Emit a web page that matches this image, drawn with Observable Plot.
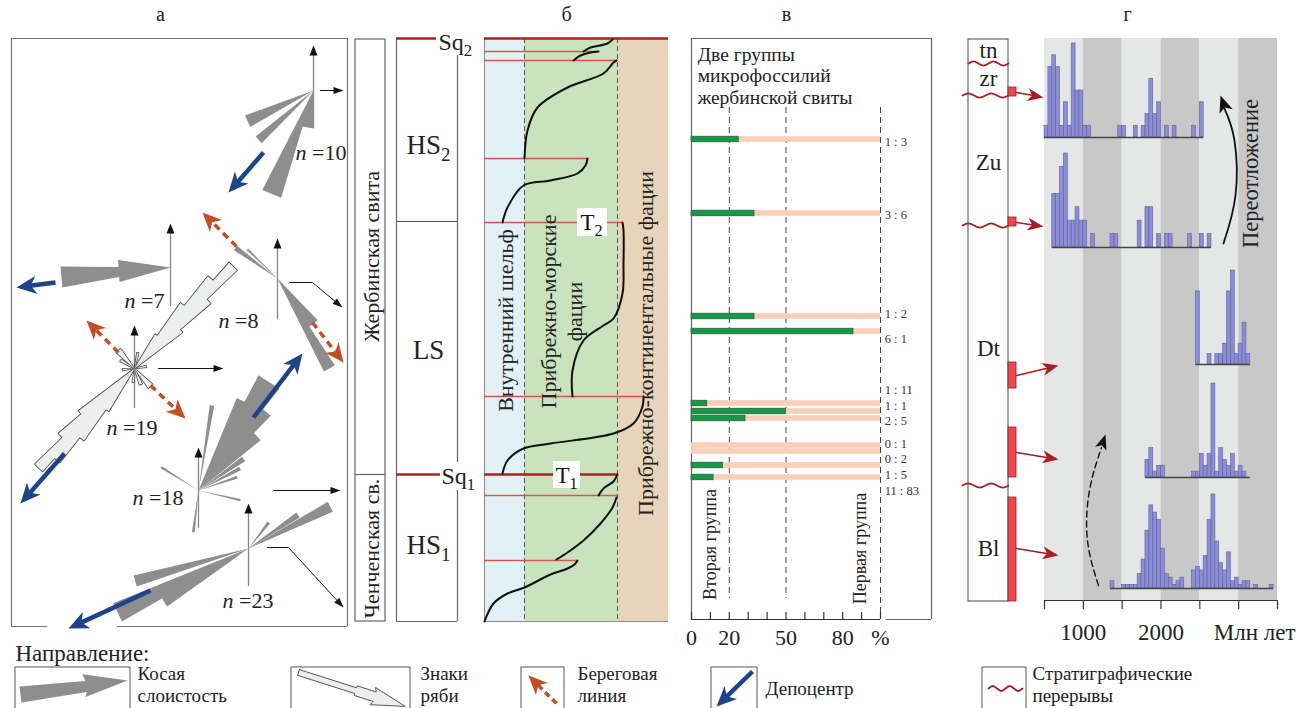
<!DOCTYPE html>
<html lang="ru">
<head>
<meta charset="utf-8">
<script src="https://cdn.jsdelivr.net/npm/d3@7"></script>
<script src="https://cdn.jsdelivr.net/npm/@observablehq/plot@0.6"></script>
<style>
  html,body{margin:0;padding:0;background:#fff;}
  #fig{position:relative;width:1301px;height:708px;overflow:hidden;background:#fff;}
  #fig svg{position:absolute;left:0;top:0;}
  #fig svg, #fig svg text, #fig svg tspan{font-family:"Liberation Serif","Tinos","Noto Serif","DejaVu Serif",serif !important;}
</style>
</head>
<body>
<div id="fig"></div>
<script>
const FONT = '"Liberation Serif","Tinos","Noto Serif","DejaVu Serif",serif';

/* ====================== DATA ====================== */
// --- а: rose diagrams (n = number of measurements)
const roseNames  = ["n10","n7","n8","n19","n18","n23"];
const roseCounts = [10, 7, 8, 19, 18, 23];
const roseKind   = ["cross","cross","cross","ripple","cross","cross"];
// petals: [azimuth°, half-width°, length]
const petalsN10 = [[245,5,73],[228,3.5,74],[202,5.2,112],[190,10,38]];
const petalsN7  = [[265,5.5,110],[266,12,53]];
const petalsN8  = [[150,3.5,104],[143,7,58],[306,3,52],[314,1.5,42]];
const petalsN19 = [[44,2.2,142],[41,2.5,118],[47,2.5,100],[38,3,80],[50,3,60],[35,4,40],
                   [224,2.2,138],[221,2.5,120],[227,2.5,100],[218,3,88],[230,3,70],[215,4,50],
                   [318,7,24],[300,4,16],[138,7,24],[158,5,17],[185,4,14],[12,3,16],[80,4,12],[265,4,12]];
const petalsN18 = [[33,5.5,130],[40,4,104],[26,3.5,100],[47,4,80],[55,3,55],[62,2.5,47],[71,2,41],
                   [9,1.5,86],[302,1.5,44],[187,2,42],[103,1.5,43]];
const petalsN23 = [[254,2.8,118],[244,4,146],[238,3.5,100],[63,3.5,92],[56,3,60],[38,3,33]];

// --- б: sequence stratigraphy
const formations = ["Жербинская свита","Ченченская св."];
const sequences  = ["HS_2","LS","HS_1"];
const faciesNames = ["Внутренний шельф","Прибрежно-морские","фации","Прибрежно-континентальные фации"];
const faciesBounds = [0, 40, 133, 184];            // shelf | coastal-marine | coastal-continental
const faciesColors = ["#e1f1f6","#c9e3bf","#e8d4ba"];
const floodDepth  = [13, 22, 120, 184, 358, 457, 522];   // thin red surfaces
const floodExtent = [114, 133, 103, 138, 159, 133, 93];
const seqBoundDepth = [0, 436];                           // Sq2, Sq1
const seqBoundExtent = [184, 133];
// facies curve (x = facies position, d = stratigraphic depth), one array per segment
const curveHS1a = [[0,583],[9,565],[23,555],[40,549],[66,536],[83,530],[90,526],[93,522]];
const curveHS1b = [[72,521],[83,514],[99,502],[116,485],[128,469],[132,459]];
const curveHS1c = [[114,457],[119,450],[129,443],[132,438],[133,436]];
const curveLSa  = [[18,435],[23,422],[39,410],[66,405],[129,395],[149,385],[158,368],[159,358]];
const curveLSb  = [[88,358],[88,332],[99,302],[119,287],[129,280],[138,255],[139,225],[139,192],[138,184]];
const curveHS2a = [[18,184],[23,169],[39,147],[66,142],[93,135],[101,127],[103,120]];
const curveHS2b = [[40,120],[43,92],[53,69],[83,49],[119,35],[129,24],[132,22]];
const curveHS2c = [[89,22],[96,17],[106,14],[114,13]];
const curveHS2d = [[99,13],[106,9],[123,5],[128,1]];

// --- в: two groups of microfossils
const ratioLabels = ["1 : 3","3 : 6","1 : 2","6 : 1","1 : 11","1 : 1","2 : 5","0 : 1","0 : 2","1 : 5","11 : 83"];
const secondGroup = [1, 3, 1, 6, 1, 1, 2, 0, 0, 1, 11];
const firstGroup  = [3, 6, 2, 1, 11, 1, 5, 1, 2, 5, 83];
const sampleDepth = [101,175,278,293,365,373,380,407,413,427,439];
const labelDepth  = [103,176,275,300,351,367,382,405,420,436,452];
const pctTicks  = [0,10,20,30,40,50,60,70,80,90,100];
const pctLabels = ["0","20","50","80","%"];
const pctLabelAt = [0,20,50,80,100];

// --- г: detrital zircon ages (bin start, Ma; bin = 50 Ma) and counts
const BIN = 50;
const agesZr   = [500,550,600,650,700,750,800,850,900,950,1000,1050,1450,1500,1650,1750,1800,1850,1900,1950,2050,2150,2400,2500];
const countsZr = [1,6,7,6,1,3,1,8,4,4,1,1,1,1,1,1,2,5,2,3,1,1,1,3];
const agesZu   = [600,650,700,750,800,850,900,950,1000,1100,1350,1400,1700,1800,1850,1950,2050,2100,2350,2500,2600];
const countsZu = [4,4,6,7,2,2,3,2,2,1,1,1,2,3,3,1,1,1,1,1,1];
const agesDt1   = [2450,2600,2700,2750,2800,2850,2900,2950,3000,3050,3100];
const countsDt1 = [7,1,1,1,2,7,9,1,2,4,1];
const agesDt2   = [1800,1850,1900,1950,2000,2400,2450,2500,2550,2600,2650,2700,2750,2800,2850,2900,2950,3000,3050];
const countsDt2 = [3,5,1,2,2,1,1,4,2,4,16,1,5,3,2,4,1,2,1];
const agesBl   = [1350,1500,1550,1600,1650,1700,1750,1800,1850,1900,1950,2000,2050,2100,2150,2200,2250,2400,2450,2500,2550,2600,2650,2700,2750,2800,2850,2900,2950,3000,3050,3100,3200,3400];
const countsBl = [2,1,1,1,1,4,8,16,23,21,19,11,4,3,1,2,3,5,6,5,9,19,26,13,7,5,10,2,3,1,2,2,1,1];
const ageTicks = [500,1000,1500,2000,2500,3000,3500];
const ageLabels = ["1000","2000","Млн лет"];
const ageLabelAt = [1000,2000,3206];
const unitNames = ["tn","zr","Zu","Dt","Bl"];
const unitDepth = [12, 40, 124, 310, 510];
const hiatusDepth = [25, 57, 187, 447];
const sampleTop = [49,179,324,389,459];
const sampleBot = [58,188,350,439,563];

// legend
const legendTitle = "Направление:";
const legendItems = [["Косая","слоистость"],["Знаки","ряби"],["Береговая","линия"],["Депоцентр"],["Стратиграфические","перерывы"]];

/* ====================== LAYOUT ====================== */
const LAYOUT = {
  depthRange: [38, 621], depthDomain: [0, 583],
  roseCenter: [[313,90],[170,267],[277,278],[134,368],[198,490],[248,548]],
  northSpan:  [[45,127],[223,305],[238,318],[325,407],[447,527],[503,585]],
  labelPos:   [[295,152],[124,300],[218,320],[106,427],[132,497],[222,600]],
  eastArrows: [[320,90,343,90],[158,368,223,368],[273,490,340,490]],
  bentArrows: [[[289,282],[312,282],[342,307]],[[267,547],[288,547],[343,607]]],
  blueArrows: [[263,152,228,192],[55,282,16,287],[64,453,20,503],[253,417,302,353],[150,590,68,628]],
  coastArrows:[[236,246,202,212],[312,322,343,362],[118,352,86,320],[150,385,185,418]],
  redArrows:  [[1016,92,1043,97],[1016,222,1043,226],[1016,375,1058,365],[1016,452,1058,459],[1016,548,1058,555]],
  panelLetters: [["а",160],["б",566],["в",786],["г",1127]]
};

/* ====================== HELPERS ====================== */
const rad = a => a * Math.PI / 180;
function sectorRows(id, cx, cy, az, hw, len) {
  const a1 = rad(az - hw), a2 = rad(az + hw);
  return [[cx,cy],[cx+len*Math.sin(a1), cy-len*Math.cos(a1)],[cx+len*Math.sin(a2), cy-len*Math.cos(a2)],[cx,cy]]
    .map(([x,y]) => ({id, x, y}));
}
function arrowRows(id, x1, y1, x2, y2, hl, hw, notch) {
  const L = Math.hypot(x2-x1, y2-y1), ux = (x2-x1)/L, uy = (y2-y1)/L, px = -uy, py = ux;
  const bx = x2-ux*hl, by = y2-uy*hl, nx = x2-ux*hl*notch, ny = y2-uy*hl*notch;
  return {
    shaft: [{id,x:x1,y:y1},{id,x:nx+ux,y:ny+uy}],
    head: [{id,x:x2,y:y2},{id,x:bx+px*hw/2,y:by+py*hw/2},{id,x:nx,y:ny},{id,x:bx-px*hw/2,y:by-py*hw/2},{id,x:x2,y:y2}]
  };
}
function templateRows(id, x1, y1, x2, y2, tpl) {
  const L = Math.hypot(x2-x1, y2-y1), ux = (x2-x1)/L, uy = (y2-y1)/L, px = -uy, py = ux;
  return tpl.map(([t,w]) => ({id, x:x1+ux*t+px*w, y:y1+uy*t+py*w}));
}
function waveRows(id, x1, x2, y, amp, n) {
  const k = [0,-1,0,1];
  return d3.range(n+1).map(i => ({id, x: x1+(x2-x1)*i/n, y: y + k[i%4]*amp}));
}
function enrich(svg) {
  d3.select(svg).selectAll("text").each(function() {
    this.style.fontFamily = FONT;
    if (this.querySelector("tspan")) return;
    const s = this.textContent; let m;
    if ((m = s.match(/^(.+)_(\d+)$/))) {
      this.textContent = "";
      d3.select(this).append("tspan").text(m[1]);
      d3.select(this).append("tspan").attr("font-size","70%").attr("dy","0.35em").text(m[2]);
    } else if ((m = s.match(/^n( ?=.*)$/))) {
      this.textContent = "";
      d3.select(this).append("tspan").attr("font-style","italic").text("n");
      d3.select(this).append("tspan").text(m[1]);
    }
  });
  return svg;
}
const base = {width:1301, height:708, margin:0, style:{background:"transparent", fontFamily:FONT, color:"#222", overflow:"visible"}};
const fig = document.getElementById("fig");
const add = p => fig.appendChild(enrich(p));
const poly = (rows, o) => Plot.line(rows, {x:"x", y:"y", z:"id", curve:"linear", ...o});
const yDepth = {domain: LAYOUT.depthDomain, range: LAYOUT.depthRange, axis: null};
const TXT = {fontFamily: FONT, fill: "#222"};

/* ====================== PANEL б (facies) ====================== */
const faciesZones = faciesColors.map((c,i) => ({x1: faciesBounds[i], x2: faciesBounds[i+1], fill: c}));
const floods = floodDepth.map((d,i) => ({d, x2: floodExtent[i]}));
const bounds = seqBoundDepth.map((d,i) => ({d, x2: seqBoundExtent[i]}));
const curveSegs = [curveHS1a,curveHS1b,curveHS1c,curveLSa,curveLSb,curveHS2a,curveHS2b,curveHS2c,curveHS2d];
const curveRows = curveSegs.flatMap((s,k) => s.map(([x,d]) => ({seg:k, x, d})));
add(Plot.plot({...base,
  x: {domain:[0,184], range:[484,668], axis:null}, y: yDepth, color:{type:"identity"},
  marks: [
    Plot.rect(faciesZones, {x1:"x1", x2:"x2", y1:0, y2:583, fill:"fill"}),
    Plot.ruleX([faciesBounds[1], faciesBounds[2]], {y1:0, y2:583, stroke:"#555", strokeWidth:1, strokeDasharray:"5,3"}),
    Plot.ruleX([0], {y1:0, y2:583, stroke:"#8a8a8a"}),
    Plot.ruleY([583], {x1:0, x2:184, stroke:"#8a8a8a"}),
    Plot.ruleY(floods, {y:"d", x1:0, x2:"x2", stroke:"#d9544c", strokeWidth:1.3}),
    Plot.ruleY(bounds, {y:"d", x1:0, x2:"x2", stroke:"#a9221c", strokeWidth:2.6}),
    Plot.line(curveRows, {x:"x", y:"d", z:"seg", curve:"catmull-rom", stroke:"#111", strokeWidth:2}),
    Plot.rect([{x1:93,x2:123,y1:170,y2:198},{x1:69,x2:96,y1:423,y2:450}], {x1:"x1",x2:"x2",y1:"y1",y2:"y2", fill:"#fff"}),
    Plot.text([{x:107,d:184,t:"T_2"},{x:82,d:437,t:"T_1"}], {x:"x", y:"d", text:"t", fontSize:23, ...TXT, fill:"#111"}),
    Plot.text([{x:21,d:282},{x:64,d:273},{x:90,d:273},{x:161,d:305}], {x:"x", y:"d", text:(d,i)=>faciesNames[i], rotate:-90, fontSize:22, ...TXT})
  ]
}));

/* ====================== PANEL в (bars) ====================== */
const barRows = ratioLabels.map((r,i) => ({r, d: sampleDepth[i], ld: labelDepth[i],
  pct: 100*secondGroup[i]/(secondGroup[i]+firstGroup[i])}));
add(Plot.plot({...base,
  x: {domain:[0,100], range:[691,880], axis:null}, y: yDepth,
  marks: [
    Plot.ruleX([0], {y1:0, y2:581, stroke:"#666", strokeWidth:1.2}),
    Plot.ruleY([0], {x1:0, x2:127, stroke:"#666", strokeWidth:1.2}),
    Plot.ruleX([127], {y1:0, y2:581, stroke:"#666", strokeWidth:1.2}),
    Plot.ruleY([581], {x1:103, x2:127, stroke:"#666", strokeWidth:1.2}),
    Plot.ruleX([20,50], {y1:69, y2:560, stroke:"#444", strokeDasharray:"6,4"}),
    Plot.ruleX([100], {y1:69, y2:575, stroke:"#444", strokeDasharray:"6,4"}),
    Plot.rect(barRows, {x1:0, x2:100, y1:d=>d.d-2.8, y2:d=>d.d+2.8, fill:"#f9cfba"}),
    Plot.rect(barRows.filter(d=>d.pct>0), {x1:0, x2:"pct", y1:d=>d.d-2.8, y2:d=>d.d+2.8, fill:"#13994a", stroke:"#2b5634", strokeWidth:0.7}),
    Plot.text(barRows, {x:102.2, y:"ld", text:"r", textAnchor:"start", fontSize:12.5, ...TXT, fill:"#333"}),
    Plot.text(["Две группы","микрофоссилий","жербинской свиты"], {x:3.3, y:(d,i)=>16+i*21.5, text:d=>d, textAnchor:"start", fontSize:19.5, ...TXT}),
    Plot.text(["Вторая группа","Первая группа"], {x:(d,i)=>[10,89.5][i], y:(d,i)=>[506,510][i], text:d=>d, rotate:-90, fontSize:18, ...TXT}),
    Plot.ruleY([581], {x1:0, x2:100, stroke:"#333", strokeWidth:1.2}),
    Plot.ruleX(pctTicks, {y1:574, y2:581, stroke:"#333", strokeWidth:1.2}),
    Plot.text(pctLabels, {x:(d,i)=>pctLabelAt[i], y:599, text:d=>d, fontSize:22, ...TXT})
  ]
}));

/* ====================== PANEL г (zircon histograms) ====================== */
const histAges = [agesZr, agesZu, agesDt1, agesDt2, agesBl];
const histCounts = [countsZr, countsZu, countsDt1, countsDt2, countsBl];
const histBase = [99, 209, 326, 439, 550];
const histSpan = [[500,2550],[600,2650],[2450,3150],[1800,3150],[1350,3450]];
const HIST_H = 94;
const histRows = histAges.flatMap((ages,h) => {
  const k = HIST_H / d3.max(histCounts[h]);
  return ages.map((a,i) => ({x1:a, x2:a+BIN, y1:histBase[h], y2:histBase[h]-histCounts[h][i]*k}));
});
const bands = d3.range(6).map(i => ({x1:500+i*500, x2:1000+i*500, fill: i%2 ? "#c8c8c8" : "#e5e6e6"}));
add(Plot.plot({...base,
  x: {domain:[500,3500], range:[1044,1277], axis:null}, y: yDepth, color:{type:"identity"},
  marks: [
    Plot.rect(bands, {x1:"x1", x2:"x2", y1:0, y2:562, fill:"fill"}),
    Plot.rect(histRows, {x1:"x1", x2:"x2", y1:"y1", y2:"y2", fill:"#8d8dd4", stroke:"#5e5ea8", strokeWidth:0.6}),
    Plot.ruleY(histSpan.map((s,h)=>({x1:s[0], x2:s[1], d:histBase[h]})), {y:"d", x1:"x1", x2:"x2", stroke:"#444", strokeWidth:1.3}),
    Plot.ruleY([562], {x1:500, x2:3500, stroke:"#333", strokeWidth:1.2}),
    Plot.ruleX(ageTicks, {y1:562, y2:571, stroke:"#333", strokeWidth:1.2}),
    Plot.text(ageLabels, {x:(d,i)=>ageLabelAt[i], y:594, text:d=>d, fontSize:23, ...TXT}),
    Plot.text(["Переотложение"], {x:3155, y:135, text:d=>d, rotate:-90, fontSize:22.5, ...TXT})
  ]
}));

/* unit column of panel г */
const hiatusRows = hiatusDepth.flatMap((d,i) => waveRows("h"+i, i===0?0:-0.15, 1, d, 2.2, 8));
const sampleRows = sampleTop.map((t,i) => ({t, b: sampleBot[i]}));
add(Plot.plot({...base,
  x: {domain:[0,1], range:[968,1008], axis:null}, y: yDepth,
  marks: [
    Plot.rect([0], {x1:0, x2:1, y1:1, y2:563, fill:"#fff", stroke:"#666", strokeWidth:1.2}),
    Plot.line(hiatusRows, {x:"x", y:"y", z:"id", curve:"natural", stroke:"#a51f22", strokeWidth:1.8}),
    Plot.rect(sampleRows, {x1:1, x2:1.2, y1:"t", y2:"b", fill:"#ea4951", stroke:"#8c2025", strokeWidth:0.8}),
    Plot.text(unitNames, {x:0.5, y:(d,i)=>unitDepth[i], text:d=>d, fontSize:23, ...TXT})
  ]
}));

/* ====================== LAYOUT OVERLAY: panel а, columns of б, annotations, legend ====================== */
const petalSets = [petalsN10, petalsN7, petalsN8, petalsN19, petalsN18, petalsN23];
const crossPetals = [], ripplePetals = [];
roseNames.forEach((name,i) => {
  const [cx,cy] = LAYOUT.roseCenter[i];
  petalSets[i].forEach((p,j) => (roseKind[i]==="ripple" ? ripplePetals : crossPetals).push(...sectorRows(name+"-"+j, cx, cy, p[0], p[1], p[2])));
});
const northParts = roseNames.map((name,i) => arrowRows("N"+name, LAYOUT.roseCenter[i][0], LAYOUT.northSpan[i][1], LAYOUT.roseCenter[i][0], LAYOUT.northSpan[i][0], 10, 8, 1));
const eastParts = LAYOUT.eastArrows.map((a,i) => arrowRows("E"+i, ...a, 10, 7, 1));
const bentParts = LAYOUT.bentArrows.map((p,i) => ({line: p.slice(0,2).map(([x,y])=>({id:"B"+i,x,y})), arr: arrowRows("B"+i, ...p[1], ...p[2], 10, 7, 1)}));
const blueParts = LAYOUT.blueArrows.map((a,i) => arrowRows("D"+i, ...a, 20, 18, 0.72));
const coastParts = LAYOUT.coastArrows.map((a,i) => arrowRows("C"+i, ...a, 19, 17, 0.72));
const redParts = LAYOUT.redArrows.map((a,i) => arrowRows("R"+i, ...a, 16, 13, 0.72));
const dashedCurve = [[1098,585],[1087,540],[1089,490],[1101,447]].map(([x,y])=>({id:"dc",x,y}));
const dashedHead = arrowRows("dch", 1099, 452, 1105, 434, 15, 12, 0.75);
const solidCurve = [[1223,243],[1235,195],[1234,140],[1224,108]].map(([x,y])=>({id:"sc",x,y}));
const solidHead = arrowRows("sch", 1226, 112, 1220, 95, 17, 14, 0.75);

// legend symbols
const legGray = templateRows("lg", 20, 694, 127, 680, [[0,-8],[66,-5],[64,-12],[108,0],[64,11],[66,6],[0,8]]);
const legRipple = templateRows("lr", 298, 672, 405, 706, [[0,-3],[60,-3],[60,-5],[80,-5],[78,-9],[112,0],[78,9],[80,5],[60,5],[60,3],[0,3],[0,-3]]);
const legCoast = arrowRows("lc", 556, 703, 528, 675, 19, 17, 0.72);
const legBlue = arrowRows("lb", 752, 671, 716, 706, 20, 18, 0.72);
const legWave = waveRows("lw", 988, 1022, 688, 2.5, 8);
const legBoxes = [[15,130],[291,410],[521,564],[711,757],[982,1026]];
const legTextX = [137, 420, 577, 765, 1032];

const GRAY = "#8e8e8e", BLUE = "#1d4489", RUST = "#c24e26", DARKRED = "#a71e22";
add(Plot.plot({...base,
  x: {domain:[0,1301], range:[0,1301], axis:null}, y: {domain:[0,708], range:[0,708], axis:null},
  marks: [
    // panel letters
    Plot.text(LAYOUT.panelLetters, {x:d=>d[1], y:14, text:d=>d[0], fontSize:20, ...TXT}),
    // panel а frame
    Plot.ruleY([38], {x1:11, x2:347, stroke:"#777", strokeWidth:1.2}),
    Plot.ruleX([11, 347], {y1:38, y2:626, stroke:"#777", strokeWidth:1.2}),
    Plot.ruleY([626], {x1:11, x2:47, stroke:"#777", strokeWidth:1.2}),
    Plot.ruleY([626], {x1:117, x2:347, stroke:"#777", strokeWidth:1.2}),
    // north lines
    Plot.line(northParts.flatMap(p=>p.shaft), {x:"x", y:"y", z:"id", stroke:"#888", strokeWidth:1.3}),
    poly(northParts.flatMap(p=>p.head), {fill:"#111", stroke:"none"}),
    // petals
    poly(crossPetals, {fill:GRAY, stroke:"none"}),
    poly(ripplePetals, {fill:"#edefee", stroke:"#444", strokeWidth:1.6}),
    poly(ripplePetals, {fill:"#edefee", stroke:"none"}),
    // east + bent arrows
    Plot.line(eastParts.flatMap(p=>p.shaft), {x:"x", y:"y", z:"id", stroke:"#111", strokeWidth:1}),
    poly(eastParts.flatMap(p=>p.head), {fill:"#111", stroke:"none"}),
    Plot.line(bentParts.flatMap(p=>[...p.line, ...p.arr.shaft.slice(1)]), {x:"x", y:"y", z:"id", stroke:"#111", strokeWidth:1}),
    poly(bentParts.flatMap(p=>p.arr.head), {fill:"#111", stroke:"none"}),
    // depocentre and coastline arrows
    Plot.line(blueParts.flatMap(p=>p.shaft), {x:"x", y:"y", z:"id", stroke:BLUE, strokeWidth:4.5, strokeLinecap:"butt"}),
    poly(blueParts.flatMap(p=>p.head), {fill:BLUE, stroke:"none"}),
    Plot.line(coastParts.flatMap(p=>p.shaft), {x:"x", y:"y", z:"id", stroke:RUST, strokeWidth:3.5, strokeDasharray:"7,5", strokeLinecap:"butt"}),
    poly(coastParts.flatMap(p=>p.head), {fill:RUST, stroke:"none"}),
    // n labels
    Plot.text(roseCounts, {x:(d,i)=>LAYOUT.labelPos[i][0], y:(d,i)=>LAYOUT.labelPos[i][1], text:d=>"n =" + d, textAnchor:"start", fontSize:22, ...TXT}),

    // panel б: formation & sequence columns
    Plot.rect([0], {x1:355, x2:385, y1:39, y2:621, fill:"none", stroke:"#666", strokeWidth:1.2}),
    Plot.ruleY([474], {x1:355, x2:385, stroke:"#666", strokeWidth:1.2}),
    Plot.text(formations, {x:371, y:(d,i)=>[256,548][i], text:d=>d, rotate:-90, fontSize:22, ...TXT}),
    Plot.ruleX([396], {y1:38, y2:621, stroke:"#666", strokeWidth:1.2}),
    Plot.ruleY([621], {x1:396, x2:457, stroke:"#666", strokeWidth:1.2}),
    Plot.ruleX([457], {y1:55, y2:462, stroke:"#666", strokeWidth:1.2}),
    Plot.ruleX([457], {y1:490, y2:621, stroke:"#666", strokeWidth:1.2}),
    Plot.ruleY([221], {x1:396, x2:457, stroke:"#555", strokeWidth:1.2}),
    Plot.ruleY([38], {x1:396, x2:436, stroke:"#a9221c", strokeWidth:2.6}),
    Plot.ruleY([474], {x1:396, x2:440, stroke:"#a9221c", strokeWidth:2.6}),
    Plot.text(sequences, {x:428, y:(d,i)=>[145,350,545][i], text:d=>d, fontSize:27, ...TXT}),
    Plot.text(["Sq_2","Sq_1"], {x:(d,i)=>[438,441][i], y:(d,i)=>[42,476][i], text:d=>d, textAnchor:"start", fontSize:24, ...TXT}),

    // panel г annotations
    Plot.line(redParts.flatMap(p=>p.shaft), {x:"x", y:"y", z:"id", stroke:DARKRED, strokeWidth:1.6}),
    poly(redParts.flatMap(p=>p.head), {fill:DARKRED, stroke:"none"}),
    Plot.line(dashedCurve, {x:"x", y:"y", curve:"natural", stroke:"#111", strokeWidth:1.4, strokeDasharray:"6,4"}),
    poly(dashedHead.head, {fill:"#111", stroke:"none"}),
    Plot.line(solidCurve, {x:"x", y:"y", curve:"natural", stroke:"#111", strokeWidth:1.8}),
    poly(solidHead.head, {fill:"#111", stroke:"none"}),

    // legend
    Plot.text([legendTitle], {x:15, y:653, text:d=>d, textAnchor:"start", fontSize:23, ...TXT}),
    Plot.rect(legBoxes, {x1:d=>d[0], x2:d=>d[1], y1:667, y2:712, fill:"#fff", stroke:"#666", strokeWidth:1.1}),
    poly(legGray, {fill:GRAY, stroke:"none"}),
    poly(legRipple, {fill:"#edefee", stroke:"#444", strokeWidth:0.9}),
    Plot.line(legCoast.shaft, {x:"x", y:"y", stroke:RUST, strokeWidth:3.5, strokeDasharray:"6,4", strokeLinecap:"butt"}),
    poly(legCoast.head, {fill:RUST, stroke:"none"}),
    Plot.line(legBlue.shaft, {x:"x", y:"y", stroke:BLUE, strokeWidth:4.5, strokeLinecap:"butt"}),
    poly(legBlue.head, {fill:BLUE, stroke:"none"}),
    Plot.line(legWave, {x:"x", y:"y", curve:"natural", stroke:DARKRED, strokeWidth:1.8}),
    Plot.text(legendItems.flatMap((lines,i)=>lines.map((t,k)=>({t, x:legTextX[i], y: lines.length===1 ? 688 : 673+k*22}))),
      {x:"x", y:"y", text:"t", textAnchor:"start", fontSize:19, ...TXT})
  ]
}));
</script>
</body>
</html>
